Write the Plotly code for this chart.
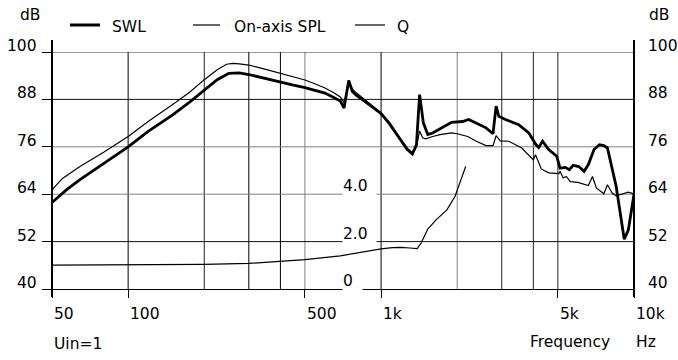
import numpy as np
import plotly.graph_objects as go

# ---------------- data ----------------
SWL_FREQ = [50, 57, 64.5, 80, 100, 120, 150, 175, 200, 225, 250, 275, 300, 350, 400, 450, 500, 550, 600, 650,
            690, 714, 745, 770, 800, 900, 1000, 1080, 1180, 1270, 1330, 1380, 1420, 1470, 1530, 1600, 1740,
            1900, 2100, 2220, 2340, 2600, 2770, 2850, 2920, 3100, 3500, 3840, 4100, 4200, 4350, 4600, 4950,
            5100, 5350, 5550, 5750, 6050, 6350, 6600, 6950, 7300, 7600, 7850, 8500, 8800, 9150, 9500, 10000]
SWL_DB = [61.9, 65.1, 67.7, 71.8, 76.0, 79.9, 84.1, 87.3, 90.3, 93.0, 94.6, 94.7, 94.3, 93.2, 92.3, 91.6, 91.0, 90.3, 89.6, 88.5,
          87.6, 85.8, 92.8, 90.0, 89.0, 86.6, 84.4, 81.8, 78.2, 75.3, 74.2, 76.5, 89.2, 82.0, 79.1, 79.5, 80.8,
          82.2, 82.4, 82.9, 82.2, 80.8, 79.3, 86.3, 83.7, 82.9, 81.6, 79.5, 76.5, 75.8, 77.4, 75.3, 73.6,
          70.6, 70.8, 70.2, 71.3, 71.0, 69.8, 71.5, 75.3, 76.5, 76.3, 75.7, 66.0, 59.2, 52.6, 55.0, 64.0]

SPL_FREQ = [50, 55, 64.5, 80, 100, 120, 150, 175, 200, 225, 245, 260, 275, 300, 350, 400, 450, 500, 550, 600, 650,
            690, 715, 745, 770, 800, 900, 1000, 1080, 1180, 1270, 1330, 1380, 1420, 1460, 1500, 1600, 1710, 1900,
            2000, 2200, 2380, 2600, 2770, 2850, 2960, 3200, 3600, 4000, 4080, 4300, 4600, 5050, 5100, 5250, 5400,
            5600, 6000, 6600, 6850, 7100, 7600, 7850, 8200, 8500, 9000, 9500, 10000]
SPL_DB = [65.1, 68.0, 71.0, 74.6, 78.6, 82.4, 86.7, 89.8, 93.0, 95.5, 96.9, 97.1, 97.0, 96.7, 95.6, 94.6, 93.7, 92.9, 91.9, 90.9, 89.7,
          88.6, 87.2, 92.3, 90.6, 89.6, 87.0, 84.6, 82.2, 78.4, 75.6, 74.5, 76.0, 80.0, 78.3, 78.0, 78.6, 79.1, 79.5,
          79.3, 78.6, 77.4, 76.3, 76.3, 78.8, 77.5, 77.4, 75.7, 72.7, 74.0, 70.4, 69.4, 69.2, 69.8, 68.1, 68.5,
          67.2, 67.0, 66.2, 68.5, 65.6, 64.1, 66.4, 64.3, 63.6, 64.1, 64.5, 64.1]

Q_FREQ = [50, 80, 120, 160, 200, 300, 400, 500, 690, 800, 1000, 1110, 1200, 1300, 1390, 1440, 1530, 1650, 1820, 1960, 2050, 2160]
Q_VAL = [1.01, 1.01, 1.01, 1.02, 1.04, 1.08, 1.16, 1.24, 1.40, 1.52, 1.69, 1.75, 1.76, 1.73, 1.70, 1.94, 2.53, 2.92, 3.34, 3.90, 4.47, 5.17]

X_TICK_VALS = [50, 100, 500, 1000, 5000, 10000]
X_TICK_LABELS = ["50", "100", "500", "1k", "5k", "10k"]
Y_TICK_VALS = [40, 52, 64, 76, 88, 100]
Y_TICK_LABELS = ["40", "52", "64", "76", "88", "100"]
Q_TICK_VALS = [0, 2, 4]
Q_TICK_LABELS = ["0", "2.0", "4.0"]
GRID_FREQS = [100, 200, 300, 400, 500, 1000, 2000, 3000, 4000, 5000]
GRID_DB = [52, 64, 76, 88, 100]
LEGEND_NAMES = ["SWL", "On-axis SPL", "Q"]

# ---------------- styling ----------------
W, H = 678, 360
ML, MR, MT, MB = 52, 44, 52, 71
PW, PH = W - ML - MR, H - MT - MB
FONT = dict(family="DejaVu Sans", size=15.5, color="black")
GRID_FREQ_COLORS = {100: "#000", 200: "#222", 300: "#000", 400: "#000", 500: "#808080",
                    1000: "#000", 2000: "#808080", 3000: "#222", 4000: "#222", 5000: "#222"}
GRID_DB_COLORS = {52: "#111", 64: "#808080", 76: "#808080", 88: "#111", 100: "#333"}


def px(x):
    return (x - ML) / PW


def py(y):
    return (H - MB - y) / PH


fig = go.Figure()
fig.add_trace(go.Scatter(x=SPL_FREQ, y=SPL_DB, mode="lines", line=dict(color="black", width=1.2), name="On-axis SPL", showlegend=False))
fig.add_trace(go.Scatter(x=Q_FREQ, y=Q_VAL, mode="lines", line=dict(color="black", width=1.2), name="Q", yaxis="y2", showlegend=False))
fig.add_trace(go.Scatter(x=SWL_FREQ, y=SWL_DB, mode="lines", line=dict(color="black", width=2.8), name="SWL", showlegend=False))

shapes = []
for f in GRID_FREQS:
    shapes.append(dict(type="line", xref="x", yref="paper", x0=f, x1=f, y0=0, y1=1,
                       line=dict(color=GRID_FREQ_COLORS[f], width=1), layer="below"))
for d in GRID_DB:
    shapes.append(dict(type="line", xref="paper", yref="y", x0=0, x1=1, y0=d, y1=d,
                       line=dict(color=GRID_DB_COLORS[d], width=1), layer="below"))
# axis lines (left / right), extended above and below the plot
for xp in (0, 1):
    shapes.append(dict(type="line", xref="paper", yref="paper", x0=xp, x1=xp, y0=py(297), y1=py(40),
                       line=dict(color="black", width=2), layer="above"))
# legend samples
leg = [(70, 100, 3, 110), (193, 220, 1.2, 232), (355, 385, 1.2, 395)]
for (x0, x1, w, _) in leg:
    shapes.append(dict(type="line", xref="paper", yref="paper", x0=px(x0), x1=px(x1), y0=py(25), y1=py(25),
                       line=dict(color="black", width=w)))

ann = []
for v, t in zip(Y_TICK_VALS, Y_TICK_LABELS):
    ann.append(dict(x=px(39), xref="paper", y=v, yref="y", text=t, xanchor="right", yanchor="middle",
                    yshift=6, showarrow=False, font=FONT))
    ann.append(dict(x=px(646), xref="paper", y=v, yref="y", text=t, xanchor="left", yanchor="middle",
                    yshift=6, showarrow=False, font=FONT))
for v, t in zip(X_TICK_VALS, X_TICK_LABELS):
    ann.append(dict(x=np.log10(v), xref="x", y=py(314), yref="paper", text=t, xanchor="left", yanchor="middle",
                    xshift=0, showarrow=False, font=FONT))
for v, t in zip(Q_TICK_VALS, Q_TICK_LABELS):
    ann.append(dict(x=np.log10(700), xref="x", y=v, yref="y2", text=t, xanchor="left", yanchor="bottom",
                    yshift=-2, showarrow=False, font=FONT, bgcolor="white", borderpad=0,
                    width=(19 if t == "0" else 33), align="left"))
for (x0, x1, w, tx), name in zip(leg, LEGEND_NAMES):
    ann.append(dict(x=px(tx), xref="paper", y=py(27), yref="paper", text=name, xanchor="left", yanchor="middle",
                    showarrow=False, font=FONT))
for txt, x, y in [("dB", 18, 15), ("dB", 647, 15), ("Frequency", 528, 342), ("Hz", 634, 342), ("Uin=1", 52, 344)]:
    ann.append(dict(x=px(x), xref="paper", y=py(y), yref="paper", text=txt, xanchor="left", yanchor="middle",
                    showarrow=False, font=FONT))

fig.update_layout(
    width=W, height=H,
    margin=dict(l=ML, r=MR, t=MT, b=MB, pad=0),
    paper_bgcolor="white", plot_bgcolor="white",
    showlegend=False,
    font=FONT,
    xaxis=dict(type="log", range=[np.log10(50), 4], showgrid=False, zeroline=False,
               showline=True, linecolor="black", linewidth=1,
               ticks="outside", tickvals=X_TICK_VALS, ticklen=8, tickcolor="black", tickwidth=1,
               showticklabels=False, fixedrange=True),
    yaxis=dict(range=[40, 100], showgrid=False, zeroline=False, showline=False,
               ticks="outside", tickvals=Y_TICK_VALS, ticklen=9, tickcolor="black", tickwidth=1,
               showticklabels=False),
    yaxis2=dict(range=[0, 10], overlaying="y", visible=False),
    shapes=shapes,
    annotations=ann,
)

fig.write_html("out.html")
